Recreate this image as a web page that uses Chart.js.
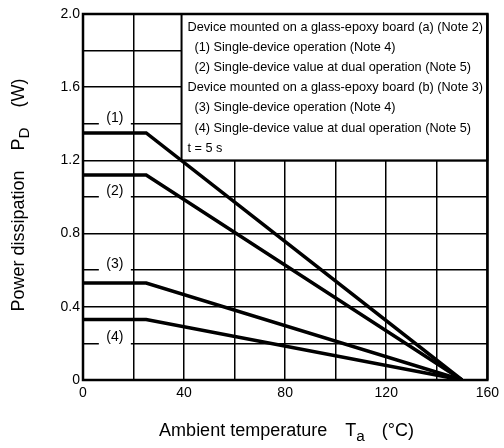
<!DOCTYPE html>
<html>
<head>
<meta charset="utf-8">
<script src="https://cdn.jsdelivr.net/npm/chart.js@4.4.0/dist/chart.umd.min.js"></script>
<style>
  html, body { margin: 0; padding: 0; background: #fff; }
  #wrap { width: 504px; height: 448px; }
</style>
</head>
<body>
<div id="wrap"><canvas id="chart"></canvas></div>
<script>
const temps = [0, 25, 150];
const pd1 = [1.35, 1.35, 0];
const pd2 = [1.12, 1.12, 0];
const pd3 = [0.53, 0.53, 0];
const pd4 = [0.33, 0.33, 0];
const curveLabels = ['(1)', '(2)', '(3)', '(4)'];
const curveLabelLevels = [1.4, 1.0, 0.6, 0.2];
const xTickLabels = ['0', '40', '80', '120', '160'];
const yTickLabels = ['0', '0.4', '0.8', '1.2', '1.6', '2.0'];
const noteLines = [
    'Device mounted on a glass-epoxy board (a) (Note 2)',
    '  (1) Single-device operation (Note 4)',
    '  (2) Single-device value at dual operation (Note 5)',
    'Device mounted on a glass-epoxy board (b) (Note 3)',
    '  (3) Single-device operation (Note 4)',
    '  (4) Single-device value at dual operation (Note 5)',
    't = 5 s'
];

const FONT = '"Liberation Sans", Arial, sans-serif';

function toPoints(values) {
    return values.map((v, i) => ({ x: temps[i], y: v }));
}

// draws text segments in a row, some of them as subscripts
function drawRich(ctx, segs, size) {
    let x = 0;
    segs.forEach(s => {
        x += s.gap || 0;
        if (s.sub) {
            ctx.font = (size * 0.85) + 'px ' + FONT;
            ctx.fillText(s.text, x, size * 0.3);
        } else {
            ctx.font = size + 'px ' + FONT;
            ctx.fillText(s.text, x, 0);
        }
        x += ctx.measureText(s.text).width;
    });
    return x;
}

function measureRich(ctx, segs, size) {
    let w = 0;
    segs.forEach(s => {
        w += s.gap || 0;
        ctx.font = (s.sub ? size * 0.85 : size) + 'px ' + FONT;
        w += ctx.measureText(s.text).width;
    });
    return w;
}

const decorPlugin = {
    id: 'decor',
    beforeDatasetsDraw(chart) {
        const { ctx, chartArea, scales } = chart;
        const xs = scales.x, ys = scales.y;
        ctx.save();

        // curve labels sitting on grid lines
        ctx.font = '14px ' + FONT;
        ctx.textAlign = 'center';
        ctx.textBaseline = 'middle';
        curveLabels.forEach((lbl, i) => {
            const px = xs.getPixelForValue(12.6);
            const py = ys.getPixelForValue(curveLabelLevels[i]);
            ctx.fillStyle = '#fff';
            ctx.fillRect(px - 16, py - 3, 32, 6);
            ctx.fillStyle = '#000';
            ctx.fillText(lbl, px, py - 6);
        });

        // note box
        const bx = xs.getPixelForValue(39);
        const by = ys.getPixelForValue(1.2);
        ctx.fillStyle = '#fff';
        ctx.fillRect(bx, chartArea.top, chartArea.right - bx, by - chartArea.top);
        ctx.strokeStyle = '#000';
        ctx.lineWidth = 2;
        ctx.strokeRect(bx, chartArea.top, chartArea.right - bx, by - chartArea.top);

        ctx.fillStyle = '#000';
        ctx.font = '12.7px ' + FONT;
        ctx.textAlign = 'left';
        ctx.textBaseline = 'middle';
        noteLines.forEach((line, i) => {
            const indent = line.startsWith('  ') ? 7 : 0;
            ctx.fillText(line.trim(), bx + 6 + indent, chartArea.top + 13 + i * 20.2);
        });
        ctx.restore();
    },
    afterDraw(chart) {
        const { ctx, chartArea } = chart;
        ctx.save();
        ctx.strokeStyle = '#000';
        ctx.lineWidth = 2.5;
        ctx.strokeRect(chartArea.left, chartArea.top,
            chartArea.right - chartArea.left, chartArea.bottom - chartArea.top);

        ctx.fillStyle = '#000';
        ctx.textAlign = 'left';
        ctx.textBaseline = 'middle';

        // x axis title
        const xSegs = [
            { text: 'Ambient temperature' },
            { text: 'T', gap: 18 },
            { text: 'a', sub: true },
            { text: '(°C)', gap: 17 }
        ];
        const xw = measureRich(ctx, xSegs, 18);
        ctx.save();
        ctx.translate(286.5 - xw / 2, 431);
        drawRich(ctx, xSegs, 18);
        ctx.restore();

        // y axis title
        const ySegs = [
            { text: 'Power dissipation' },
            { text: 'P', gap: 20 },
            { text: 'D', sub: true },
            { text: '(W)', gap: 20 }
        ];
        const yw = measureRich(ctx, ySegs, 18);
        ctx.save();
        ctx.translate(19, 195 + yw / 2);
        ctx.rotate(-Math.PI / 2);
        drawRich(ctx, ySegs, 18);
        ctx.restore();

        ctx.restore();
    }
};

const lineStyle = {
    borderColor: '#000',
    borderWidth: 3.5,
    pointRadius: 0,
    fill: false,
    tension: 0,
    borderJoinStyle: 'miter'
};

new Chart(document.getElementById('chart'), {
    type: 'line',
    data: {
        datasets: [
            { label: '(1)', data: toPoints(pd1), ...lineStyle },
            { label: '(2)', data: toPoints(pd2), ...lineStyle },
            { label: '(3)', data: toPoints(pd3), ...lineStyle },
            { label: '(4)', data: toPoints(pd4), ...lineStyle }
        ]
    },
    options: {
        responsive: true,
        maintainAspectRatio: false,
        animation: false,
        layout: { padding: { top: 14, right: 14, left: 0, bottom: 0 } },
        plugins: {
            legend: { display: false },
            tooltip: { enabled: false }
        },
        scales: {
            x: {
                type: 'linear',
                min: 0,
                max: 160,
                afterFit: s => { s.height = 68; },
                grid: { color: '#000', lineWidth: 1.5, drawTicks: false },
                border: { display: false },
                ticks: {
                    stepSize: 20,
                    padding: 5,
                    color: '#000',
                    font: { family: FONT, size: 14 },
                    maxRotation: 0,
                    autoSkip: false,
                    callback: v => (v % 40 === 0 ? xTickLabels[v / 40] : '')
                }
            },
            y: {
                type: 'linear',
                min: 0,
                max: 2.0,
                afterFit: s => { s.width = 83; },
                grid: { color: '#000', lineWidth: 1.5, drawTicks: false },
                border: { display: false },
                ticks: {
                    stepSize: 0.2,
                    padding: 3,
                    color: '#000',
                    font: { family: FONT, size: 14 },
                    autoSkip: false,
                    callback: v => {
                        const k = Math.round(v / 0.4);
                        return Math.abs(v - k * 0.4) < 1e-6 ? yTickLabels[k] : '';
                    }
                }
            }
        }
    },
    plugins: [decorPlugin]
});
</script>
</body>
</html>
